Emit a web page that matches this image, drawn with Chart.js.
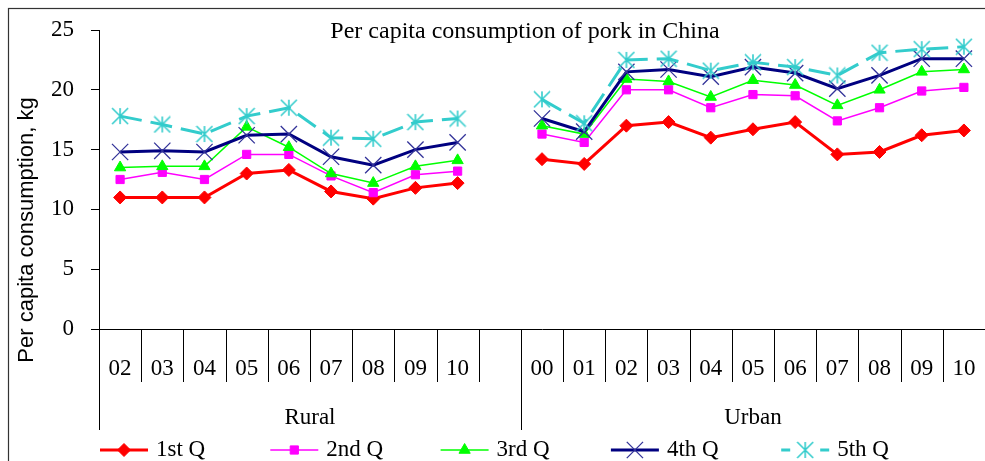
<!DOCTYPE html>
<html>
<head>
<meta charset="utf-8">
<script src="https://cdn.jsdelivr.net/npm/chart.js@4.4.1/dist/chart.umd.min.js"></script>
<style>
  html, body { margin: 0; padding: 0; background: #ffffff; overflow: hidden; }
  canvas { display: block; }
</style>
</head>
<body>
<canvas id="chart" width="985" height="461"></canvas>
<script>
// ---- data -------------------------------------------------------------
const ruralYears = ['02', '03', '04', '05', '06', '07', '08', '09', '10'];
const urbanYears = ['00', '01', '02', '03', '04', '05', '06', '07', '08', '09', '10'];
const groupNames = ['Rural', 'Urban'];
const seriesNames = ['1st Q', '2nd Q', '3rd Q', '4th Q', '5th Q'];

const rural1 = [11.0, 11.0, 11.0, 13.0, 13.3, 11.5, 10.9, 11.8, 12.2];
const rural2 = [12.5, 13.1, 12.5, 14.6, 14.6, 12.8, 11.4, 12.9, 13.2];
const rural3 = [13.5, 13.6, 13.6, 16.9, 15.2, 13.0, 12.2, 13.6, 14.1];
const rural4 = [14.8, 14.9, 14.8, 16.2, 16.3, 14.4, 13.7, 15.0, 15.6];
const rural5 = [17.8, 17.1, 16.3, 17.8, 18.5, 16.0, 15.9, 17.3, 17.6];

const urban1 = [14.2, 13.8, 17.0, 17.3, 16.0, 16.7, 17.3, 14.6, 14.8, 16.2, 16.6];
const urban2 = [16.3, 15.6, 20.0, 20.0, 18.5, 19.6, 19.5, 17.4, 18.5, 19.9, 20.2];
const urban3 = [17.0, 16.3, 20.9, 20.7, 19.4, 20.8, 20.4, 18.7, 20.0, 21.5, 21.7];
const urban4 = [17.6, 16.5, 21.5, 21.7, 21.1, 21.9, 21.4, 20.1, 21.2, 22.6, 22.6];
const urban5 = [19.2, 17.2, 22.5, 22.6, 21.6, 22.3, 21.9, 21.2, 23.1, 23.4, 23.6];

const yTicks = [0, 5, 10, 15, 20, 25];
const chartTitle = 'Per capita consumption of pork in China';
const yAxisTitle = 'Per capita consumption, kg';

// ---- derived structures ----------------------------------------------
// one empty spacer slot separates the rural and urban blocks
const labels = [...ruralYears, '', ...urbanYears];
const groups = [
  { name: groupNames[0], from: 0, to: ruralYears.length },            // includes spacer
  { name: groupNames[1], from: ruralYears.length + 1, to: labels.length - 1 }
];
const joinSeries = (r, u) => [...r, null, ...u];
const seriesData = [
  joinSeries(rural1, urban1),
  joinSeries(rural2, urban2),
  joinSeries(rural3, urban3),
  joinSeries(rural4, urban4),
  joinSeries(rural5, urban5)
];

// asterisk marker: an X with a vertical stroke
function asteriskMarker(color, size, lw) {
  const c = document.createElement('canvas');
  c.width = size; c.height = size;
  const g = c.getContext('2d');
  g.strokeStyle = color;
  g.lineWidth = lw;
  const m = size / 2, a = size / 2 - 1;
  g.beginPath();
  g.moveTo(m, m - a); g.lineTo(m, m + a);
  g.moveTo(m - a, m - a); g.lineTo(m + a, m + a);
  g.moveTo(m + a, m - a); g.lineTo(m - a, m + a);
  g.stroke();
  return c;
}

const styles = [
  { line: '#FF0000', width: 3,   dash: [],      point: 'rectRot',  radius: 6.5, fill: '#FF0000', stroke: '#FF0000', pw: 1 },
  { line: '#FF00FF', width: 1.5, dash: [],      point: 'rect',     radius: 5.8, fill: '#FF00FF', stroke: '#FF00FF', pw: 1 },
  { line: '#00FF00', width: 1.5, dash: [],      point: 'triangle', radius: 6.5, fill: '#00FF00', stroke: '#00FF00', pw: 1 },
  { line: '#000080', width: 3,   dash: [],      point: 'crossRot', radius: 11.5, fill: '#333399', stroke: '#333399', pw: 1.3 },
  { line: '#33CCCC', width: 3,   dash: [22, 9], point: asteriskMarker('#33CCCC', 18, 1.6), radius: 9, fill: '#33CCCC', stroke: '#33CCCC', pw: 1 }
];

const datasets = seriesNames.map((name, i) => ({
  label: name,
  data: seriesData[i],
  borderColor: styles[i].line,
  borderWidth: styles[i].width,
  borderDash: styles[i].dash,
  pointStyle: styles[i].point,
  pointRadius: styles[i].radius,
  pointHoverRadius: styles[i].radius,
  pointBackgroundColor: styles[i].fill,
  pointBorderColor: styles[i].stroke,
  pointBorderWidth: styles[i].pw,
  tension: 0,
  spanGaps: false,
  clip: false,
  order: seriesNames.length - 1 - i
}));

const serif = "'Liberation Serif', 'Times New Roman', serif";
const sans = "'Liberation Sans', Arial, sans-serif";

// ---- decorations: frame, category dividers, group labels, titles, legend
const decorations = {
  id: 'decorations',
  beforeDraw(chart) {
    const ctx = chart.ctx;
    ctx.save();
    ctx.strokeStyle = '#333333';
    ctx.lineWidth = 1.2;
    ctx.strokeRect(8.5, 8.5, chart.width + 20, chart.height + 20);
    ctx.restore();
  },
  afterDraw(chart) {
    const ctx = chart.ctx;
    const xs = chart.scales.x;
    const area = chart.chartArea;
    const half = (xs.getPixelForValue(1) - xs.getPixelForValue(0)) / 2;
    const base = area.bottom;
    const groupStarts = new Set(groups.map(g => g.from));

    ctx.save();
    ctx.strokeStyle = '#000000';
    ctx.lineWidth = 1;
    for (let i = 0; i <= labels.length; i++) {
      const x = Math.round(xs.getPixelForValue(i) - half) + 0.5;
      const long = groupStarts.has(i) || i === labels.length;
      ctx.beginPath();
      ctx.moveTo(x, base);
      ctx.lineTo(x, base + (long ? 101 : 53));
      ctx.stroke();
    }

    // group captions
    ctx.fillStyle = '#000000';
    ctx.font = '23px ' + serif;
    ctx.textAlign = 'center';
    ctx.textBaseline = 'middle';
    groups.forEach(g => {
      const x0 = xs.getPixelForValue(g.from) - half;
      const x1 = xs.getPixelForValue(g.to) + half;
      ctx.fillText(g.name, (x0 + x1) / 2, base + 89);
    });

    // chart title
    ctx.font = '24px ' + serif;
    ctx.fillText(chartTitle, 525, 32);

    // vertical axis title
    ctx.save();
    ctx.translate(27, 230);
    ctx.rotate(-Math.PI / 2);
    ctx.font = '22px ' + sans;
    ctx.fillText(yAxisTitle, 0, 0);
    ctx.restore();

    // legend
    const ly = 450;
    const slot = 170.3;
    chart.data.datasets.forEach((ds, i) => {
      const x0 = 100 + i * slot;
      const len = 48;
      ctx.save();
      ctx.strokeStyle = ds.borderColor;
      ctx.lineWidth = ds.borderWidth;
      if (ds.borderDash && ds.borderDash.length) {
        ctx.setLineDash([9, 30]);
      }
      ctx.beginPath();
      ctx.moveTo(x0, ly);
      ctx.lineTo(x0 + len, ly);
      ctx.stroke();
      ctx.setLineDash([]);
      ctx.fillStyle = ds.pointBackgroundColor;
      ctx.strokeStyle = ds.pointBorderColor;
      ctx.lineWidth = ds.pointBorderWidth;
      Chart.helpers.drawPoint(ctx, {
        pointStyle: ds.pointStyle,
        radius: ds.pointRadius,
        rotation: 0,
        borderWidth: ds.pointBorderWidth
      }, x0 + len / 2, ly);
      ctx.restore();
      ctx.fillStyle = '#000000';
      ctx.font = '23px ' + serif;
      ctx.textAlign = 'left';
      ctx.textBaseline = 'middle';
      ctx.fillText(ds.label, x0 + len + 8, ly);
    });
    ctx.restore();
  }
};

new Chart(document.getElementById('chart'), {
  type: 'line',
  data: { labels, datasets },
  options: {
    responsive: false,
    animation: false,
    devicePixelRatio: 1,
    layout: { autoPadding: false, padding: { top: 30, right: 0, bottom: 0, left: 0 } },
    plugins: {
      legend: { display: false },
      title: { display: false },
      tooltip: { enabled: false }
    },
    scales: {
      x: {
        type: 'category',
        offset: true,
        grid: { display: true, drawOnChartArea: false, drawTicks: false, offset: true, color: '#000000' },
        border: { display: true, color: '#000000', width: 1 },
        ticks: {
          autoSkip: false,
          maxRotation: 0,
          minRotation: 0,
          padding: 26,
          color: '#000000',
          font: { family: serif, size: 23 }
        },
        afterFit(scale) {
          scale.height = 132;
          scale.paddingLeft = 0;
          scale.paddingRight = 0;
        }
      },
      y: {
        min: 0,
        max: 25,
        afterBuildTicks(scale) { scale.ticks = yTicks.map(v => ({ value: v })); },
        grid: { display: true, drawOnChartArea: false, drawTicks: true, tickLength: 8, color: '#000000' },
        border: { display: true, color: '#000000', width: 1 },
        ticks: {
          padding: 17,
          color: '#000000',
          font: { family: serif, size: 23 }
        },
        afterFit(scale) {
          scale.width = 99;
          scale.paddingTop = 0;
          scale.paddingBottom = 0;
        }
      }
    }
  },
  plugins: [decorations]
});
</script>
</body>
</html>
